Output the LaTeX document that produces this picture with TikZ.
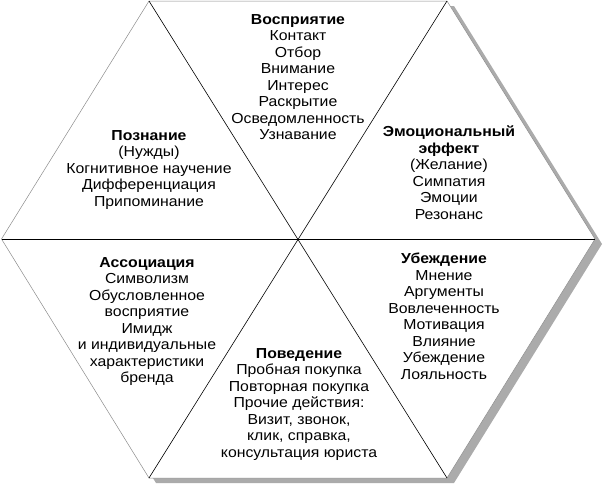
\documentclass[tikz,border=0pt]{standalone}
\usepackage{fontspec}
\setmainfont{Liberation Sans}[FakeStretch=1.09]
\usepackage{tikz}
\usetikzlibrary{calc}

\tikzset{
	block/.style = {anchor = north, align = center, inner sep = 0pt, font = \fontsize{14.5}{16.5}\selectfont},
	outline/.style = {draw = black!45, line width = 0.5pt},
	divider/.style = {draw = black, line width = 0.6pt},
}

\begin{document}
\begin{tikzpicture}[x = 1pt, y = -1pt]
		\def\sx{7};
		\def\sy{5};
		
		\useasboundingbox (0,0) rectangle (605,485);
		
		\coordinate (left) at (1.5,239);
		\coordinate (top left) at (149,1);
		\coordinate (top right) at (447,1);
		\coordinate (right) at (595,239);
		\coordinate (bottom right) at (447,478);
		\coordinate (bottom left) at (149,478);
		\coordinate (centre) at (298,239);
		
		%shadow
		\fill [black!33] ($ (left) + (\sx,\sy) $) -- ($ (top left) + (\sx,\sy) $) -- ($ (top right) + (\sx,\sy) $) -- ($ (right) + (\sx,\sy) $) -- ($ (bottom right) + (\sx,\sy) $) -- ($ (bottom left) + (\sx,\sy) $) -- cycle;
		
		\filldraw [fill = white, outline] (left) -- (top left) -- (top right) -- (right) -- (bottom right) -- (bottom left) -- cycle;
		
		\draw [divider] (left) -- (right);
		\draw [divider] (top left) -- (bottom right);
		\draw [divider] (top right) -- (bottom left);
		
		%texts
		\node [block] (perception) at (298,14) {\textbf{Восприятие}\\Контакт\\Отбор\\Внимание\\Интерес\\Раскрытие\\Осведомленность\\Узнавание};
		\node [block] (cognition) at (149,130) {\textbf{Познание}\\(Нужды)\\Когнитивное научение\\Дифференциация\\Припоминание};
		\node [block] (emotion) at (449,126) {\textbf{Эмоциональный}\\\textbf{эффект}\\(Желание)\\Симпатия\\Эмоции\\Резонанс};
		\node [block] (association) at (147,257) {\textbf{Ассоциация}\\Символизм\\Обусловленное\\восприятие\\Имидж\\и индивидуальные\\характеристики\\бренда};
		\node [block] (persuasion) at (444,253) {\textbf{Убеждение}\\Мнение\\Аргументы\\Вовлеченность\\Мотивация\\Влияние\\Убеждение\\Лояльность};
		\node [block] (behaviour) at (299,348) {\textbf{Поведение}\\Пробная покупка\\Повторная покупка\\Прочие действия:\\Визит, звонок,\\клик, справка,\\консультация юриста};
	\end{tikzpicture}
\end{document}
